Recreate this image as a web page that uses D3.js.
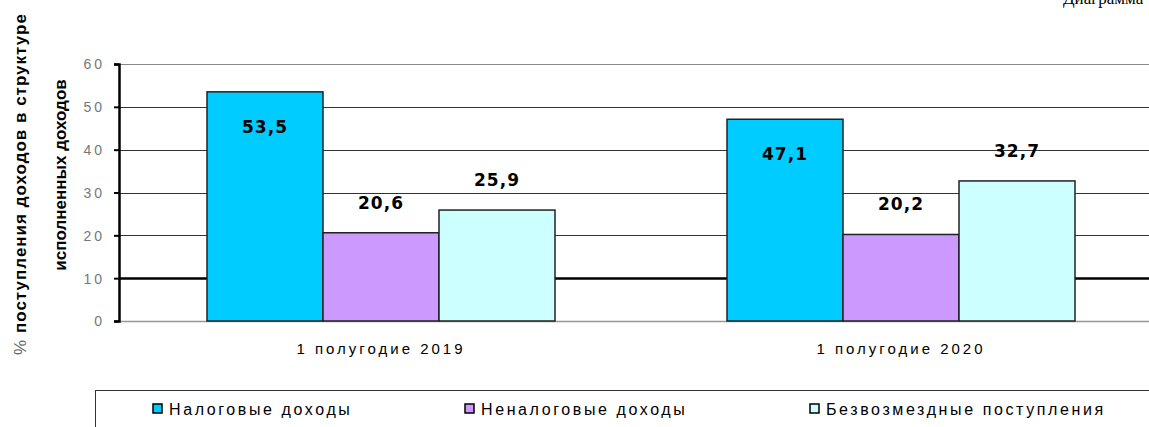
<!DOCTYPE html>
<html><head><meta charset="utf-8">
<script src="https://cdn.jsdelivr.net/npm/d3@7"></script>
<style>body{margin:0;background:#fff}svg{display:block}</style>
</head><body>
<svg id="c" width="1149" height="427"></svg>
<script>
const categories = ["1 полугодие 2019", "1 полугодие 2020"];
const seriesNames = ["Налоговые доходы", "Неналоговые доходы", "Безвозмездные поступления"];
const taxValues = [53.5, 47.1];
const nonTaxValues = [20.6, 20.2];
const grantValues = [25.9, 32.7];
const yTicks = [0, 10, 20, 30, 40, 50, 60];
const colors = ["#00CCFF", "#CC99FF", "#CCFFFF"];
const seriesValues = [taxValues, nonTaxValues, grantValues];

const svg = d3.select("#c");
const y = d3.scaleLinear().domain([0, 60]).range([321, 64]);
const x0 = d3.scaleBand().domain(categories).range([121, 1161]);
const inner = d3.scaleBand().domain(d3.range(3)).range([0, 348]);
const groupOffset = (x0.bandwidth() - 348) / 2;

// gridlines
svg.append("g").selectAll("line").data(yTicks.filter(t => t > 0)).join("line")
  .attr("x1", 119).attr("x2", 1149)
  .attr("y1", d => Math.round(y(d)) + 0.5).attr("y2", d => Math.round(y(d)) + 0.5)
  .attr("stroke", d => d === 10 ? "#000" : (d === 60 ? "#888" : "#333"))
  .attr("stroke-width", d => d === 10 ? 2.5 : 1);
// baseline
svg.append("line").attr("x1", 119).attr("x2", 1149).attr("y1", 321.5).attr("y2", 321.5)
  .attr("stroke", "#999").attr("stroke-width", 1.5);

// y axis
const yAxis = d3.axisLeft(y).tickValues(yTicks).tickSize(5).tickPadding(9).tickFormat(d3.format("d"));
const ya = svg.append("g").attr("transform", "translate(119,0)").call(yAxis);
ya.select(".domain").attr("stroke", "#000").attr("stroke-width", 2.5);
ya.selectAll(".tick line").attr("stroke", "#000").attr("stroke-width", 2);
ya.selectAll(".tick text").attr("fill", "#777").attr("font-family", "Liberation Sans, Arial, sans-serif")
  .attr("font-size", 14).attr("letter-spacing", "3px").attr("dy", "0.35em");

// bars
const groups = svg.append("g").selectAll("g").data(categories).join("g")
  .attr("transform", d => `translate(${x0(d) + groupOffset},0)`);
groups.each(function(cat, ci) {
  const g = d3.select(this);
  seriesValues.forEach((vals, si) => {
    const v = vals[ci];
    g.append("rect").attr("x", inner(si)).attr("width", inner.bandwidth())
      .attr("y", y(v)).attr("height", y(0) - y(v))
      .attr("fill", colors[si]).attr("stroke", "#222").attr("stroke-width", 1.5);
    const ly = si === 0 ? y(v) + 36 : y(v) - 29;
    g.append("text").attr("x", inner(si) + inner.bandwidth() / 2).attr("y", ly)
      .attr("text-anchor", "middle").attr("dominant-baseline", "middle")
      .attr("font-family", "DejaVu Sans, Verdana, sans-serif").attr("font-weight", "bold")
      .attr("font-size", 17).attr("letter-spacing", "1px").attr("fill", "#000")
      .text(d3.format(".1f")(v).replace(".", ","));
  });
});

// x axis labels
const xAxis = d3.axisBottom(x0).tickSize(0).tickPadding(22);
const xa = svg.append("g").attr("transform", "translate(0,321)").call(xAxis);
xa.select(".domain").remove();
xa.selectAll(".tick text").attr("fill", "#000").attr("font-family", "Liberation Sans, Arial, sans-serif")
  .attr("font-size", 15).attr("letter-spacing", "3px");

// y title
const yt = svg.append("text").attr("transform", "translate(26,184) rotate(-90)")
  .attr("text-anchor", "middle").attr("font-family", "Liberation Sans, Arial, sans-serif")
  .attr("font-size", 17).attr("letter-spacing", "1px").attr("fill", "#000");
yt.append("tspan").attr("fill", "#666").text("% ");
yt.append("tspan").attr("font-weight", "bold").text("поступления доходов в структуре");
svg.append("text").attr("transform", "translate(66,175) rotate(-90)")
  .attr("text-anchor", "middle").attr("font-family", "Liberation Sans, Arial, sans-serif")
  .attr("font-size", 17).attr("font-weight", "bold").attr("fill", "#000")
  .text("исполненных доходов");

// top right cut-off text (cut at the top edge, as in the reference)
svg.append("text").attr("x", 1063).attr("y", 4).attr("font-family", "Liberation Serif, serif")
  .attr("font-size", 17).attr("fill", "#000").text("Диаграмма");

// legend
svg.append("rect").attr("x", 95.5).attr("y", 390.5).attr("width", 1100).attr("height", 60)
  .attr("fill", "none").attr("stroke", "#333").attr("stroke-width", 1);
const legendPos = [158, 470, 815];
const lg = svg.append("g").selectAll("g").data(seriesNames).join("g")
  .attr("transform", (d, i) => `translate(${legendPos[i]},409)`);
lg.append("rect").attr("x", -5).attr("y", -5).attr("width", 9).attr("height", 9)
  .attr("fill", (d, i) => colors[i]).attr("stroke", "#000").attr("stroke-width", 1.5);
lg.append("text").attr("x", 11).attr("y", 0).attr("dy", "0.35em")
  .attr("font-family", "Liberation Sans, Arial, sans-serif")
  .attr("font-size", 16).attr("letter-spacing", "2.6px").attr("fill", "#000").text(d => d);
</script>
</body></html>
